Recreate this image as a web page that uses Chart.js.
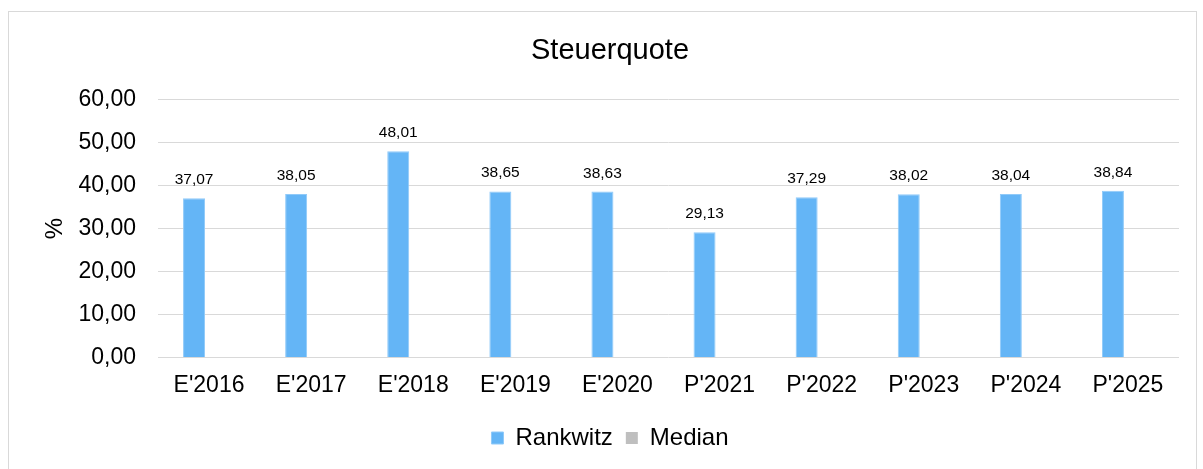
<!DOCTYPE html>
<html>
<head>
<meta charset="utf-8">
<script src="https://cdn.jsdelivr.net/npm/chart.js@4"></script>
<style>
  body { margin: 0; background: #fff; }
  #rahmen { position: absolute; left: 8px; top: 11px; width: 1187px; height: 470px; border: 1px solid #d9d9d9; }
  #wrap { position: absolute; left: 0; top: 0; width: 1203px; height: 469px; }
</style>
</head>
<body>
<div id="rahmen"></div>
<div id="wrap"><canvas id="steuerChart"></canvas></div>
<script>
// Daten
const jahre = ["E'2016", "E'2017", "E'2018", "E'2019", "E'2020", "P'2021", "P'2022", "P'2023", "P'2024", "P'2025"];
const rankwitz = [37.07, 38.05, 48.01, 38.65, 38.63, 29.13, 37.29, 38.02, 38.04, 38.84];
const median = [null, null, null, null, null, null, null, null, null, null];
const yTicks = [0, 10, 20, 30, 40, 50, 60];

function komma(v) {
  return Number(v).toFixed(2).replace('.', ',');
}

// Werte über den Balken zeichnen
const wertLabels = {
  id: 'wertLabels',
  afterDatasetsDraw(chart) {
    const ctx = chart.ctx;
    const meta = chart.getDatasetMeta(0);
    ctx.save();
    ctx.font = '15.5px "Liberation Sans", Arial, sans-serif';
    ctx.fillStyle = '#000';
    ctx.textAlign = 'center';
    ctx.textBaseline = 'alphabetic';
    meta.data.forEach((bar, i) => {
      ctx.fillText(komma(rankwitz[i]), bar.x, bar.y - 14);
    });
    ctx.restore();
  }
};

Chart.defaults.font.family = '"Liberation Sans", Arial, sans-serif';
Chart.defaults.color = '#000';

new Chart(document.getElementById('steuerChart'), {
  type: 'bar',
  data: {
    labels: jahre,
    datasets: [
      {
        label: 'Rankwitz',
        data: rankwitz,
        backgroundColor: '#64B5F6',
        borderColor: '#90CAF9',
        borderWidth: 1,
        categoryPercentage: 0.588,
        barPercentage: 0.733
      },
      {
        label: 'Median',
        data: median,
        backgroundColor: '#BFBFBF',
        categoryPercentage: 0.588,
        barPercentage: 0.733
      }
    ]
  },
  options: {
    responsive: true,
    maintainAspectRatio: false,
    animation: false,
    layout: { padding: { left: 41, right: 24, top: 34, bottom: 9 } },
    plugins: {
      title: {
        display: true,
        text: 'Steuerquote',
        font: { size: 29, weight: 'normal' },
        color: '#000',
        padding: { top: 0, bottom: 31 }
      },
      legend: {
        position: 'bottom',
        labels: {
          boxWidth: 12,
          boxHeight: 12,
          padding: 13,
          font: { size: 24 },
          color: '#000'
        }
      },
      tooltip: { enabled: false }
    },
    scales: {
      x: {
        grid: { display: false, drawTicks: false },
        border: { display: false },
        ticks: { font: { size: 23 }, color: '#000', padding: 14, maxRotation: 0 }
      },
      y: {
        min: 0,
        max: 60,
        afterBuildTicks: axis => { axis.ticks = yTicks.map(v => ({ value: v })); },
        afterFit: axis => { axis.width = 117; },
        grid: { color: '#d9d9d9', lineWidth: 1, drawTicks: false },
        border: { display: false },
        ticks: { font: { size: 23 }, color: '#000', padding: 22, callback: v => komma(v) },
        title: { display: true, text: '%', font: { size: 24 }, color: '#000', padding: { top: 0, bottom: 0 } }
      }
    }
  },
  plugins: [wertLabels]
});
</script>
</body>
</html>
